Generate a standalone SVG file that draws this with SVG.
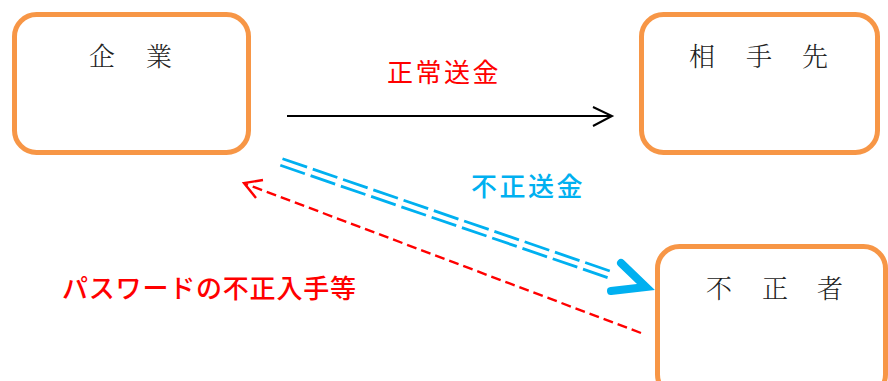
<svg xmlns="http://www.w3.org/2000/svg" width="888" height="381" viewBox="0 0 888 381">
<style>
.box{fill:#fff;stroke:#f79646;stroke-width:5}
.node{font-family:"Noto Serif CJK JP","Noto Sans CJK JP",serif;font-size:26px;fill:#222;font-weight:300}
.lbl{font-family:"Noto Sans CJK JP",sans-serif;font-size:26px}
</style>
<rect width="888" height="381" fill="#fff"/>
<g id="kigyo">
<rect class="box" x="14.5" y="14.5" width="234" height="138" rx="22"/>
<text class="node" x="89 146" y="66">企業</text>
</g>
<g id="aitesaki">
<rect class="box" x="641.5" y="14.5" width="236" height="138" rx="22"/>
<text class="node" x="689 746 802" y="66">相手先</text>
</g>
<g id="fuseisha">
<rect class="box" x="657.5" y="246.5" width="228" height="150" rx="22"/>
<text class="node" x="706 762 817" y="298">不正者</text>
</g>
<g id="connectors">
<g id="normal" fill="none" stroke="#000" stroke-width="2">
<line x1="287" y1="116" x2="611" y2="116"/>
<polyline points="593,107 612,116 593,126"/>
</g>
<g id="fraud" fill="none" stroke="#00b0f0">
<line x1="282.5" y1="158.7" x2="612.5" y2="271.9" stroke-width="2.8" stroke-dasharray="26 6"/>
<line x1="280.3" y1="165.3" x2="610.3" y2="278.5" stroke-width="2.8" stroke-dasharray="26 6"/>
<polyline points="621,263 646,287 611,291" stroke-width="8" stroke-linecap="round" stroke-linejoin="miter"/>
</g>
<g id="password" fill="none" stroke="#ff0000" stroke-width="2.4">
<line x1="641" y1="333" x2="246" y2="184" stroke-dasharray="10 5"/>
<polyline points="263,180 244,183 256,198"/>
</g>
</g>
<text class="lbl" x="387" y="82" fill="#ff0000" letter-spacing="2.5">正常送金</text>
<text class="lbl" x="471" y="196" fill="#00b0f0" letter-spacing="2.5" font-weight="500">不正送金</text>
<text class="lbl" x="62" y="298" fill="#ff0000" letter-spacing="0.8" font-weight="500">パスワードの不正入手等</text>
</svg>
